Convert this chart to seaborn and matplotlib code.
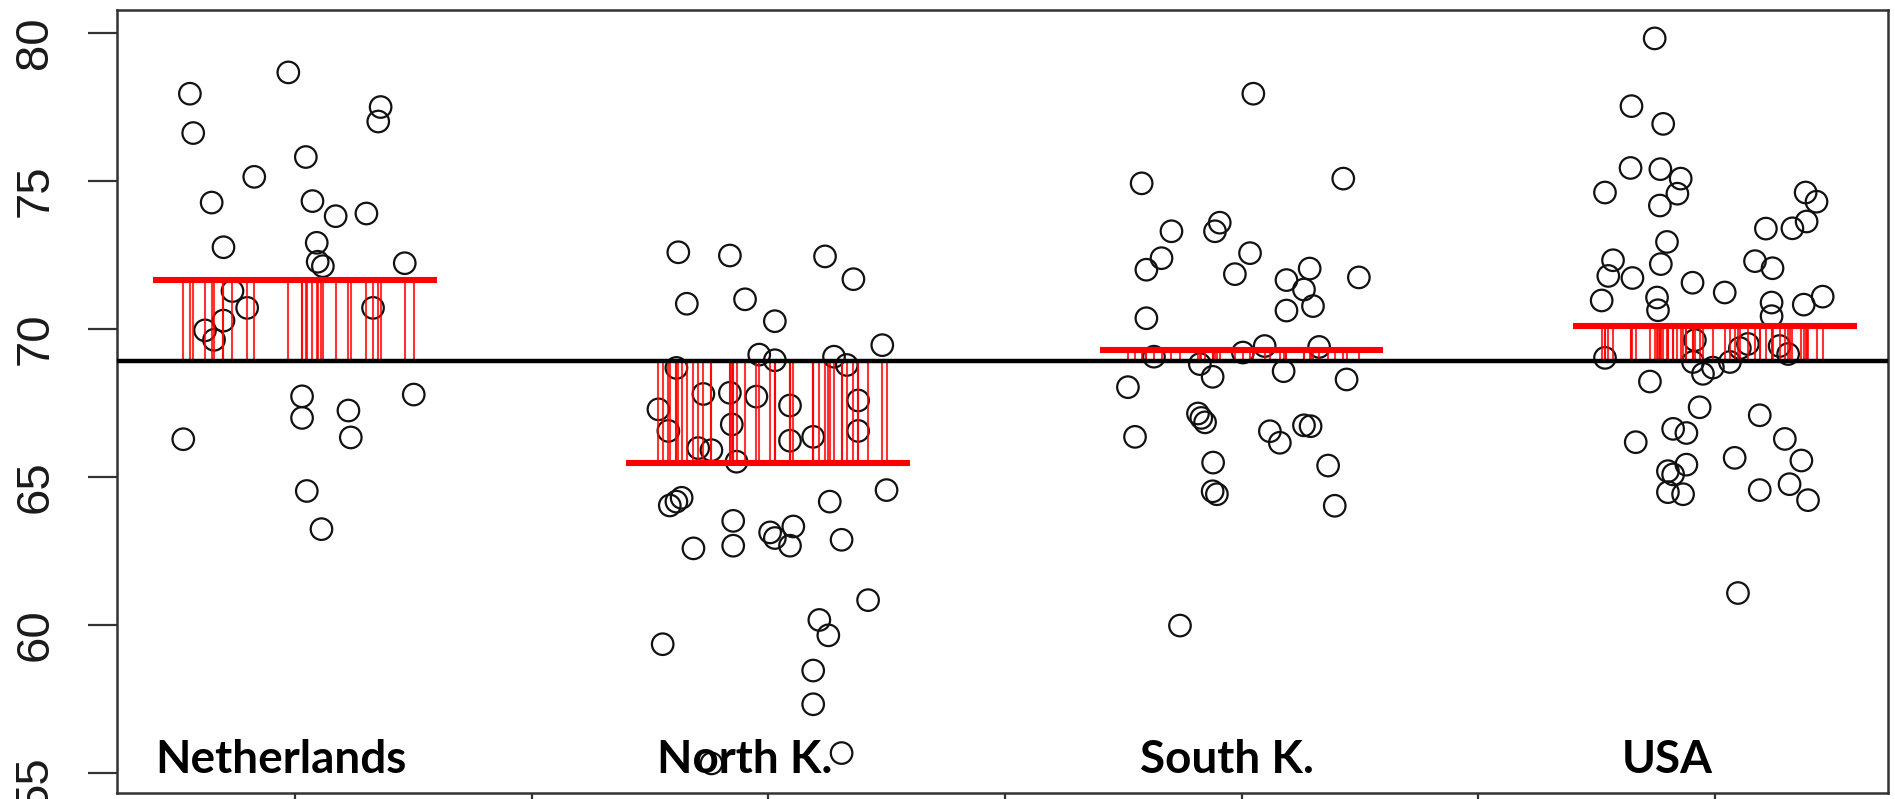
import numpy as np
import pandas as pd
import matplotlib
matplotlib.use("Agg")
import matplotlib.pyplot as plt
import seaborn as sns

# Group names, in plotting order
countries = ["Netherlands", "North K.", "South K.", "USA"]

# Observed values per group
netherlands_values = [77.96, 76.63, 78.68, 77.51, 77.02, 75.82, 75.15, 74.28, 74.33, 73.82,
                      73.91, 72.77, 72.92, 72.28, 72.13, 72.23, 71.29, 70.72, 70.72, 70.29,
                      69.96, 69.64, 67.73, 67.00, 67.25, 66.34, 67.79, 66.28, 64.53, 63.24]
north_k_values = [72.60, 72.49, 72.46, 71.69, 70.86, 71.01, 70.27, 69.46, 69.14, 68.95,
                  69.07, 68.79, 68.69, 67.81, 67.85, 67.72, 67.29, 67.42, 67.59, 66.56,
                  66.78, 66.23, 66.36, 66.56, 65.98, 65.91, 65.52, 64.04, 64.17, 64.30,
                  63.52, 62.59, 62.68, 63.13, 62.94, 63.33, 62.68, 64.17, 62.88, 64.56,
                  60.84, 60.17, 59.65, 59.35, 58.46, 57.32, 55.67, 55.32]
south_k_values = [77.96, 74.93, 75.09, 73.31, 73.31, 73.60, 72.40, 72.01, 72.57, 71.86,
                  72.05, 71.66, 71.34, 71.75, 70.63, 70.78, 70.37, 69.07, 69.21, 69.43,
                  69.40, 68.82, 68.39, 68.58, 68.30, 68.04, 67.15, 67.00, 66.85, 66.36,
                  66.55, 66.16, 66.75, 66.72, 65.49, 64.52, 64.42, 65.39, 64.03, 59.98]
usa_values = [79.83, 77.54, 76.94, 75.45, 75.41, 75.09, 74.58, 74.62, 74.18, 74.62,
              74.31, 73.64, 73.41, 73.40, 72.95, 72.33, 71.80, 71.73, 72.20, 72.30,
              72.06, 70.97, 71.57, 71.24, 71.07, 70.64, 70.90, 70.44, 70.83, 71.10,
              69.03, 69.63, 69.50, 69.36, 69.43, 69.16, 68.89, 68.49, 68.70, 68.89,
              68.23, 67.36, 67.09, 66.63, 66.49, 66.18, 66.29, 65.56, 65.65, 65.42,
              65.20, 65.09, 64.49, 64.42, 64.56, 64.76, 64.22, 61.08]

# Horizontal jitter of each observation (in group units)
netherlands_jitter = [-0.222, -0.215, -0.014, 0.181, 0.176, 0.023, -0.086, -0.176, 0.037, 0.086,
                      0.151, -0.151, 0.046, 0.048, 0.059, 0.232, -0.132, -0.101, 0.165, -0.151,
                      -0.190, -0.171, 0.015, 0.015, 0.113, 0.118, 0.251, -0.236, 0.025, 0.056]
north_k_jitter = [-0.190, -0.081, 0.120, 0.180, -0.172, -0.049, 0.014, 0.241, -0.019, 0.014,
                  0.139, 0.166, -0.194, -0.137, -0.081, -0.025, -0.232, 0.046, 0.190, -0.211,
                  -0.077, 0.046, 0.095, 0.190, -0.148, -0.120, -0.067, -0.208, -0.194, -0.183,
                  -0.074, -0.158, -0.074, 0.004, 0.014, 0.053, 0.046, 0.130, 0.155, 0.250,
                  0.211, 0.108, 0.127, -0.223, 0.095, 0.095, 0.155, -0.120]
south_k_jitter = [0.025, -0.211, 0.215, -0.148, -0.056, -0.046, -0.169, -0.201, 0.018, -0.014,
                  0.144, 0.095, 0.132, 0.248, 0.095, 0.151, -0.201, -0.185, 0.003, 0.049,
                  0.164, -0.088, -0.061, 0.089, 0.222, -0.240, -0.092, -0.085, -0.077, -0.225,
                  0.060, 0.081, 0.132, 0.146, -0.060, -0.061, -0.052, 0.183, 0.197, -0.130]
usa_jitter = [-0.127, -0.176, -0.109, -0.178, -0.115, -0.072, -0.079, -0.232, -0.116, 0.192,
              0.215, 0.194, 0.164, 0.108, -0.101, -0.215, -0.225, -0.174, -0.114, 0.085,
              0.122, -0.239, -0.047, 0.021, -0.122, -0.120, 0.120, 0.120, 0.188, 0.228,
              -0.232, -0.042, 0.070, 0.053, 0.137, 0.155, -0.046, -0.025, -0.004, 0.032,
              -0.137, -0.032, 0.095, -0.088, -0.060, -0.167, 0.148, 0.183, 0.042, -0.060,
              -0.099, -0.088, -0.099, -0.067, 0.095, 0.158, 0.197, 0.049]

y_ticks = [55, 60, 65, 70, 75, 80]

values = [netherlands_values, north_k_values, south_k_values, usa_values]
jitters = [netherlands_jitter, north_k_jitter, south_k_jitter, usa_jitter]

frames = []
for i, (name, v, j) in enumerate(zip(countries, values, jitters)):
    assert len(v) == len(j)
    frames.append(pd.DataFrame({"country": name, "value": v,
                                "pos": (i + 1) + np.asarray(j)}))
df = pd.concat(frames, ignore_index=True)

group_means = df.groupby("country", sort=False)["value"].mean().reindex(countries)
grand_mean = df["value"].mean()
group_idx = np.arange(1, len(countries) + 1)

sns.set_style("ticks")
plt.rcParams["font.family"] = ["Liberation Sans", "DejaVu Sans"]

W, H = 1895, 799
fig = plt.figure(figsize=(W / 100, H / 100), dpi=100)
ax = fig.add_axes([117 / W, 6 / H, (1888 - 117) / W, (793 - 10) / H])

# Jittered observations as open circles
sns.scatterplot(data=df, x="pos", y="value", ax=ax, s=240, marker="o",
                facecolor="none", edgecolor="#111111", linewidth=1.6,
                legend=False, zorder=2)

# Deviation of each group mean from the grand mean, drawn at every observation
ax.vlines(df["pos"], grand_mean, df["country"].map(group_means),
          color="red", linewidth=1.5, alpha=0.8, zorder=3)
# Group means
ax.hlines(group_means.values, group_idx - 0.3, group_idx + 0.3,
          color="red", linewidth=4.4, zorder=4)
# Grand mean
ax.axhline(grand_mean, color="black", linewidth=3.2, zorder=5)

# Group names inside the plot area
label_shift = [-0.03, -0.05, -0.03, -0.10]
for i, name in enumerate(countries):
    ax.text(group_idx[i] + label_shift[i], 55.0, name, ha="center", va="baseline",
            fontsize=33, fontweight="bold", family=["Lato", "DejaVu Sans"],
            color="black", zorder=6)

ax.set_xlim(0.624, 4.366)
ax.set_ylim(54.32, 80.79)
ax.set_yticks(y_ticks)
ax.set_xticks([1, 1.5, 2, 2.5, 3, 3.5, 4])
ax.set_xticklabels([])
ax.set_xlabel("")
ax.set_ylabel("")
ax.tick_params(axis="y", length=21, width=1.6, color="#333333", labelsize=34,
               labelrotation=90, pad=22, labelcolor="#1a1a1a", left=True)
ax.tick_params(axis="x", length=21, width=1.6, color="#333333", bottom=True)
for side in ["left", "right", "top", "bottom"]:
    ax.spines[side].set_visible(True)
    ax.spines[side].set_color("#333333")
    ax.spines[side].set_linewidth(1.8)

fig.savefig("out.png", dpi=100)
